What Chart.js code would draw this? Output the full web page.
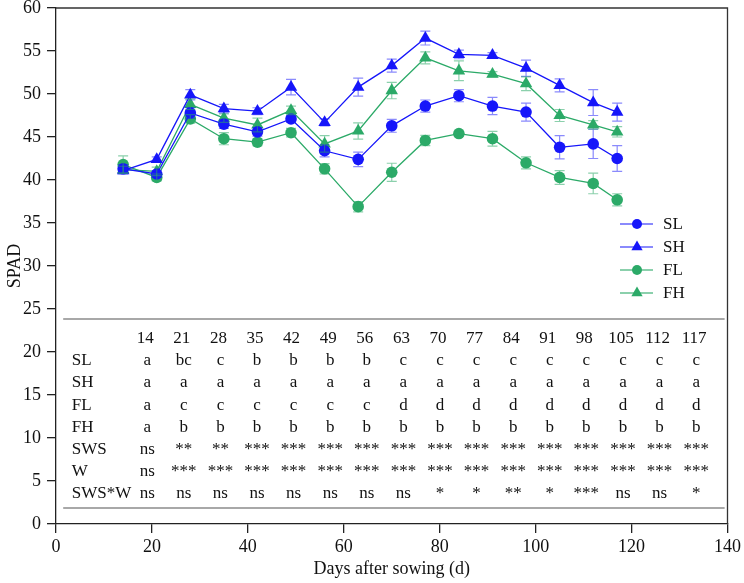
<!DOCTYPE html>
<html>
<head>
<meta charset="utf-8">
<script src="https://cdn.jsdelivr.net/npm/chart.js@4.4.0/dist/chart.umd.min.js"></script>
<style>
html,body{margin:0;padding:0;background:#fff;}
#wrap{width:744px;height:583px;position:relative;}
</style>
</head>
<body>
<div id="wrap"><canvas id="spadChart"></canvas></div>
<script>
// sampling days (x) and mean SPAD per treatment
const days=[14,21,28,35,42,49,56,63,70,77,84,91,98,105,112,117];
const slValues=[41.3,40.7,47.8,46.5,45.6,47.1,43.4,42.4,46.3,48.6,49.8,48.6,47.9,43.8,44.2,42.5];
const shValues=[41.1,42.4,49.9,48.3,48.0,50.8,46.7,50.8,53.3,56.5,54.6,54.5,53.0,51.0,49.0,47.9];
const flValues=[41.8,40.3,47.1,44.8,44.4,45.5,41.3,36.9,40.9,44.6,45.4,44.8,42.0,40.3,39.6,37.7];
const fhValues=[41.2,41.0,48.8,47.2,46.4,48.1,44.2,45.7,50.4,54.2,52.7,52.3,51.2,47.5,46.4,45.6];
// standard errors
const slErr=[0.5,0.4,0.6,0.5,0.5,0.4,0.7,0.85,0.75,0.7,0.7,1.0,1.05,1.35,1.7,1.5];
const shErr=[0.4,0.3,0.6,0.5,0.4,0.9,0.4,1.05,0.75,0.8,0.5,0.3,0.95,0.75,1.5,1.05];
const flErr=[1.0,0.4,0.5,0.7,0.4,0.5,0.6,0.6,1.05,0.6,0.3,0.85,0.7,0.8,1.2,0.7];
const fhErr=[0.4,0.5,0.6,0.5,0.8,0.5,0.95,0.95,0.95,0.7,1.15,0.3,0.8,0.7,0.5,0.6];

// significance table
const tableDays=['14','21','28','35','42','49','56','63','70','77','84','91','98','105','112','117'];
const rowLabels=['SL','SH','FL','FH','SWS','W','SWS*W'];
const slLetters=['a','bc','c','b','b','b','b','c','c','c','c','c','c','c','c','c'];
const shLetters=['a','a','a','a','a','a','a','a','a','a','a','a','a','a','a','a'];
const flLetters=['a','c','c','c','c','c','c','d','d','d','d','d','d','d','d','d'];
const fhLetters=['a','b','b','b','b','b','b','b','b','b','b','b','b','b','b','b'];
const swsSig=['ns','**','**','***','***','***','***','***','***','***','***','***','***','***','***','***'];
const wSig=['ns','***','***','***','***','***','***','***','***','***','***','***','***','***','***','***'];
const swsWSig=['ns','ns','ns','ns','ns','ns','ns','ns','*','*','**','*','***','ns','ns','*'];

const BLUE='rgb(22,22,250)';
const BLUE_LT='rgba(22,22,250,0.5)';
const GREEN='rgb(44,170,104)';
const GREEN_LT='rgba(44,170,104,0.55)';
const SERIF='"Liberation Serif", "Times New Roman", serif';

function toPoints(vals){
    return days.map((d,i)=> ({x:d, y:vals[i]}));
}

const series=[
    {label:'SL', values:slValues, err:slErr, color:BLUE, light:BLUE_LT, style:'circle', radius:5.8},
    {label:'SH', values:shValues, err:shErr, color:BLUE, light:BLUE_LT, style:'triangle', radius:7.2},
    {label:'FL', values:flValues, err:flErr, color:GREEN, light:GREEN_LT, style:'circle', radius:5.8},
    {label:'FH', values:fhValues, err:fhErr, color:GREEN, light:GREEN_LT, style:'triangle', radius:7.2}
];

const errorBarPlugin={
    id:'errorBars',
    afterDatasetsDraw(chart){
        const {ctx, scales:{x, y}}=chart;
        ctx.save();
        ctx.lineWidth=1.2;
        series.forEach(s=> {
            ctx.strokeStyle=s.light;
            s.values.forEach((v,i)=> {
                const px=x.getPixelForValue(days[i]);
                const top=y.getPixelForValue(v + s.err[i]);
                const bot=y.getPixelForValue(v - s.err[i]);
                ctx.beginPath();
                ctx.moveTo(px, top); ctx.lineTo(px, bot);
                ctx.moveTo(px-5, top); ctx.lineTo(px+5, top);
                ctx.moveTo(px-5, bot); ctx.lineTo(px+5, bot);
                ctx.stroke();
            });
        });
        ctx.restore();
    }
};

const tablePlugin={
    id:'sigTable',
    afterDraw(chart){
        const {ctx, chartArea, scales:{x, y}}=chart;
        ctx.save();
        // frame (top + right)
        ctx.strokeStyle='#333';
        ctx.lineWidth=1.3;
        ctx.beginPath();
        ctx.moveTo(chartArea.left, chartArea.top);
        ctx.lineTo(chartArea.right, chartArea.top);
        ctx.lineTo(chartArea.right, chartArea.bottom);
        ctx.stroke();

        // grey rules round the table
        ctx.strokeStyle='#a8a8a8';
        ctx.lineWidth=2;
        [23.85, 1.85].forEach(v=> {
            const py=y.getPixelForValue(v);
            ctx.beginPath();
            ctx.moveTo(x.getPixelForValue(1.5), py);
            ctx.lineTo(x.getPixelForValue(139.4), py);
            ctx.stroke();
        });

        ctx.font='17px ' + SERIF;
        ctx.fillStyle='#111';
        ctx.textBaseline='middle';
        const rowVals=[21.6,18.95,16.4,13.75,11.2,8.65,6.05,3.5];
        const colX=i=> x.getPixelForValue(18.6 + 7.63*i);

        ctx.textAlign='center';
        tableDays.forEach((d,i)=> ctx.fillText(d, colX(i), y.getPixelForValue(rowVals[0])));

        const cells=[slLetters, shLetters, flLetters, fhLetters, swsSig, wSig, swsWSig];
        rowLabels.forEach((lab,r)=> {
            const py=y.getPixelForValue(rowVals[r+1]);
            ctx.textAlign='left';
            ctx.fillText(lab, x.getPixelForValue(3.3), py);
            ctx.textAlign='center';
            cells[r].forEach((c,i)=> ctx.fillText(c, colX(i) + 2, py));
        });

        // legend
        ctx.font='17px ' + SERIF;
        ctx.textAlign='left';
        series.forEach((s,k)=> {
            const ly=224 + k*23;
            ctx.strokeStyle=s.light;
            ctx.lineWidth=2;
            ctx.beginPath();
            ctx.moveTo(620, ly); ctx.lineTo(653, ly);
            ctx.stroke();
            ctx.fillStyle=s.color;
            Chart.helpers.drawPoint(ctx, {pointStyle:s.style, radius:s.style==='circle' ? 5 : 6.5, borderWidth:0}, 637, ly);
            ctx.fillStyle='#111';
            ctx.fillText(s.label, 663, ly+1);
        });
        ctx.restore();
    }
};

const ctx=document.getElementById('spadChart').getContext('2d');
const chart=new Chart(ctx, {
    type:'scatter',
    data:{
        datasets: series.map(s=> ({
            label:s.label,
            data:toPoints(s.values),
            showLine:true,
            borderColor:s.color,
            borderWidth:1.3,
            backgroundColor:s.color,
            pointStyle:s.style,
            pointRadius:s.radius,
            pointBorderWidth:0,
            pointHoverRadius:s.radius
        }))
    },
    options:{
        responsive:true,
        maintainAspectRatio:false,
        animation:false,
        layout:{padding:{top:8, right:15, left:0, bottom:0}},
        plugins:{
            legend:{display:false},
            tooltip:{enabled:false}
        },
        scales:{
            x:{
                type:'linear',
                min:0, max:140,
                ticks:{stepSize:20, color:'#111', font:{family:SERIF, size:18}, padding:3},
                grid:{drawOnChartArea:false, tickLength:9, color:'#222', lineWidth:1.3},
                border:{color:'#222', width:1.3},
                title:{display:true, text:'Days after sowing (d)', color:'#111', font:{family:SERIF, size:18}, padding:{top:2, bottom:3}},
                afterFit(scale){ scale.height=59; scale.paddingTop=0; }
            },
            y:{
                min:0, max:60,
                ticks:{stepSize:5, color:'#111', font:{family:SERIF, size:18}, padding:6},
                grid:{drawOnChartArea:false, tickLength:9, color:'#222', lineWidth:1.3},
                border:{color:'#222', width:1.3},
                title:{display:true, text:'SPAD', color:'#111', font:{family:SERIF, size:18}, padding:{top:4, bottom:4}},
                afterFit(scale){ scale.width=56; scale.paddingTop=0; scale.paddingBottom=0; }
            }
        }
    },
    plugins:[errorBarPlugin, tablePlugin]
});
</script>
</body>
</html>
